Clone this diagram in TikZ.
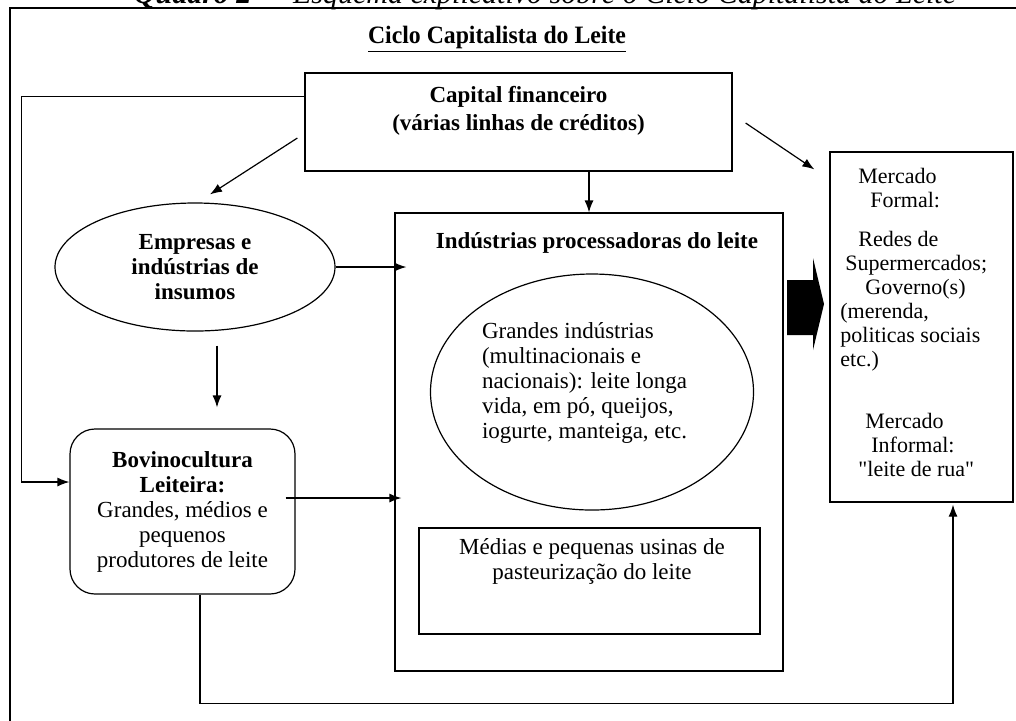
\documentclass[tikz,border=0pt]{standalone}
\usepackage{fontspec}
\setmainfont{Liberation Serif}
\usetikzlibrary{shapes.geometric,arrows.meta,calc}

\begin{document}
\begin{tikzpicture}[x=0.5pt,y=-0.5pt]
  \tikzset{box/.style={draw,line width=0.6pt,inner sep=0pt},
    oval/.style={ellipse,draw,line width=0.6pt,inner sep=0pt},
    txt/.style={font=\fontsize{11.5}{12.5}\selectfont,align=center,inner sep=0pt},
    bf/.style={txt,font=\fontsize{11.5}{12.5}\selectfont\bfseries},
    seta/.style={-{Latex[length=6pt,width=4.5pt]},line width=0.6pt}}
  \useasboundingbox (0,0) rectangle (1016,720);
  \clip (0,0) rectangle (1016,720);

  % quadro (cut at the top of the page)
  \node[anchor=base,inner sep=0pt,font=\fontsize{15}{18}\selectfont\itshape] (quadro) at (545,3)
    {\textbf{Quadro 2} — Esquema explicativo sobre o Ciclo Capitalista do Leite};
  \draw[line width=0.8pt] (10,740) -- (10,8) -- (1030,8);
  \node[anchor=base,inner sep=0pt,font=\fontsize{12.5}{14}\selectfont\bfseries,xscale=0.95] (titulo) at (497,43)
    {\underline{Ciclo Capitalista do Leite}};

  \node[box,bf,font=\fontsize{11.5}{14}\selectfont\bfseries,minimum width=213.5pt,minimum height=49pt]
    (cap) at (518.5,122) {Capital financeiro\\(várias linhas de créditos)\\ \mbox{}};%credito
  \node[oval,bf,minimum width=140pt,minimum height=64pt] (emp) at (195,267)
    {Empresas e\\indústrias de\\insumos};
  \node[box,minimum width=194pt,minimum height=229pt] (ind) at (589,442) {};
  \node[bf,anchor=base] (indt) at (597,248) {Indústrias processadoras do leite};
  \node[oval,minimum width=161.5pt,minimum height=118pt] (grd) at (592,392) {};
  \node[txt,align=left] (grdt) at (584.5,383) {Grandes indústrias\\(multinacionais e\\nacionais): leite longa\\vida, em pó, queijos,\\iogurte, manteiga, etc.};
  \node[box,minimum width=170.5pt,minimum height=53pt] (med) at (589.5,581) {};
  \node[txt] (medt) at (592,561.5) {Médias e pequenas usinas de\\pasteurização do leite};
  \node[box,txt,rounded corners=12.5pt,minimum width=112.5pt,minimum height=82.5pt] (bov) at (182.5,511.5)
    {\textbf{Bovinocultura}\\\textbf{Leiteira:}\\Grandes, médios e\\pequenos\\produtores de leite};
  \node[box,minimum width=91.5pt,minimum height=175pt] (merc) at (921.5,327) {};
  \node[txt,align=left,anchor=north west,font=\fontsize{11}{12}\selectfont\addfontfeatures{Ligatures=TeXOff}] (merct) at (840,168)
    {\hspace*{9pt}Mercado\\
     \hspace*{15pt}Formal:\\[7.5pt]
     \hspace*{9pt}Redes de\\
     \hspace*{2.5pt}Supermercados;\\
     \hspace*{12.5pt}Governo(s)\\
     (merenda,\\
     politicas sociais\\
     etc.)\\[19pt]
     \hspace*{12.5pt}Mercado\\
     \hspace*{15.5pt}Informal:\\
     \hspace*{9pt}"leite de rua"};
  % seta grande para o mercado
  \fill (787,280) -- (813,280) -- (813,258) -- (824,304) -- (813,350) -- (813,335) -- (787,335) -- cycle;

  \draw[seta] ($(cap.west)+(-7,16)$) -- ($(emp.north)+(15,-8)$);
  \draw[seta] (ind.north |- cap.south) -- (ind.north);
  \draw[seta] ($(cap.east)+(13,1)$) -- ($(merc.north west)+(-15,18)$);
  \draw[seta] ($(cap.north west)+(0,24)$) -- ++(-283,0) |- ($(bov.west)+(0,-29.5)$);
  \draw[seta] (emp.east) -- ($(emp.east -| ind.west)+(12,0)$);
  \draw[seta] ($(emp.south)+(22,14)$) -- ($(bov.north)+(34.5,-21)$);
  \draw[seta] ($(bov.east)+(-10,-13.5)$) -- ($(bov.east -| ind.west)+(7,-13.5)$);
  \draw[seta] ($(bov.south)+(17.5,0)$) -- ++(0,109) -| ($(merc.south)+(31.5,2)$);
\end{tikzpicture}
\end{document}
